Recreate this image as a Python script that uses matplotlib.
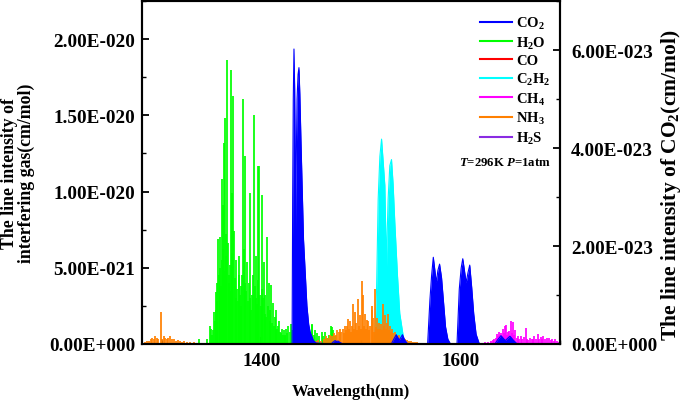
import matplotlib
matplotlib.use("Agg")
import matplotlib.pyplot as plt
from matplotlib.ticker import FixedLocator, FixedFormatter, MultipleLocator
from matplotlib.lines import Line2D

# ---------------- data ----------------
# H2O stick lines: wavelength (nm), intensity (x1e-20 cm/mol)
h2o_wl = [1337.3, 1345.7, 1348.3, 1349.7, 1350.5, 1351.3, 1352.3, 1353.0, 1354.0, 1354.6,
          1355.0, 1355.8, 1356.7, 1357.3, 1358.0, 1358.7, 1359.3, 1360.0, 1360.5, 1361.0,
          1361.6, 1362.3, 1362.8, 1363.3, 1364.0, 1364.8, 1365.7, 1366.3, 1367.0, 1367.7,
          1368.4, 1369.0, 1369.7, 1370.2, 1370.7, 1371.7, 1372.3, 1373.3, 1374.0, 1374.8,
          1375.7, 1376.5, 1377.0, 1377.7, 1378.3, 1379.0, 1379.8, 1380.5, 1381.3, 1382.3,
          1383.0, 1383.7, 1384.5, 1385.7, 1386.5, 1387.3, 1388.3, 1389.0, 1389.8, 1390.7,
          1391.5, 1392.7, 1393.5, 1394.3, 1395.0, 1395.6, 1396.3, 1397.0, 1397.7, 1398.5,
          1399.3, 1400.2, 1401.0, 1401.6, 1402.3, 1403.2, 1404.0, 1404.8, 1405.7, 1406.5,
          1407.3, 1408.2, 1409.0, 1409.7, 1410.5, 1411.7, 1412.5, 1413.5, 1414.3, 1415.0,
          1416.0, 1417.0, 1418.0, 1419.0, 1420.0, 1420.7, 1421.5, 1422.5, 1423.3, 1424.0,
          1425.0, 1426.0, 1427.0, 1428.3, 1429.7, 1430.5,
          1449.5, 1450.7, 1451.3, 1452.5, 1454.0, 1456.0, 1458.0, 1460.7, 1462.0, 1464.0,
          1466.0, 1468.0, 1469.7, 1470.7, 1472.3, 1474.0]
h2o_int = [0.03, 0.03, 0.12, 0.10, 0.06, 0.09, 0.21, 0.15, 0.34, 0.22,
           0.40, 0.28, 0.69, 0.45, 0.70, 0.50, 0.38, 1.08, 0.55, 0.91,
           0.62, 1.32, 0.48, 1.48, 0.72, 0.58, 1.86, 0.66, 0.45, 0.40,
           0.52, 0.35, 1.80, 0.60, 0.99, 1.63, 0.74, 0.43, 0.30, 0.55,
           0.36, 0.28, 0.45, 0.58, 0.32, 0.38, 0.25, 0.45, 1.61, 0.62,
           0.40, 1.23, 0.35, 0.54, 0.28, 0.40, 0.99, 0.30, 0.22, 0.32,
           0.45, 1.50, 0.38, 0.58, 0.30, 0.26, 1.17, 0.42, 1.17, 0.32,
           0.25, 0.36, 0.98, 0.30, 0.54, 0.20, 0.32, 0.18, 0.70, 0.25,
           0.40, 0.15, 0.22, 0.39, 0.14, 0.27, 0.12, 0.18, 0.10, 0.22,
           0.10, 0.12, 0.15, 0.08, 0.07, 0.10, 0.06, 0.09, 0.05, 0.06,
           0.10, 0.07, 0.12, 0.08, 0.13, 0.09,
           0.08, 0.13, 0.125, 0.06, 0.09, 0.07, 0.05, 0.08, 0.05, 0.077,
           0.04, 0.06, 0.12, 0.11, 0.09, 0.05]

# NH3 stick lines
nh3_wl = [1283, 1285, 1287, 1289, 1290.5, 1292, 1293.5, 1295, 1296.5, 1299,
          1300.5, 1302, 1303.5, 1305, 1306.5, 1308.3, 1310, 1312, 1314, 1316,
          1318, 1320, 1322, 1325, 1328, 1332, 1336,
          1452, 1455, 1457.3, 1460, 1463, 1465, 1467, 1469, 1471, 1473,
          1474.5, 1476, 1477.5, 1479, 1480.3, 1481.7, 1483, 1484, 1485.2, 1486.2,
          1487.3, 1488.3, 1489.3, 1490.3, 1491.3, 1492.3, 1493.2, 1494, 1495, 1496.2,
          1497.3, 1498.2, 1499, 1500, 1501, 1502.3, 1503.2, 1504, 1505, 1506,
          1507.3, 1508.3, 1509.3, 1510.7, 1511.5, 1512.5, 1513.3, 1514.3, 1515.2, 1516,
          1517, 1518, 1519, 1520, 1521, 1522.3, 1523, 1524, 1525, 1526,
          1527.3, 1528.3, 1529.3, 1530.5, 1531.5, 1532.5, 1534, 1535.5, 1537, 1538.5,
          1540, 1542, 1544, 1546, 1548, 1550, 1552, 1554, 1556]
nh3_int = [0.01, 0.02, 0.02, 0.03, 0.04, 0.03, 0.05, 0.04, 0.03, 0.21,
           0.03, 0.05, 0.04, 0.03, 0.04, 0.054, 0.03, 0.03, 0.02, 0.025,
           0.02, 0.015, 0.02, 0.01, 0.015, 0.01, 0.008,
           0.01, 0.02, 0.025, 0.02, 0.03, 0.05, 0.04, 0.06, 0.05, 0.07,
           0.06, 0.09, 0.08, 0.10, 0.08, 0.10, 0.07, 0.116, 0.09, 0.12,
           0.164, 0.10, 0.15, 0.08, 0.12, 0.26, 0.10, 0.21, 0.14, 0.09,
           0.295, 0.12, 0.19, 0.10, 0.41, 0.32, 0.12, 0.20, 0.10, 0.16,
           0.15, 0.09, 0.12, 0.22, 0.25, 0.17, 0.08, 0.36, 0.11, 0.17,
           0.10, 0.14, 0.10, 0.13, 0.09, 0.26, 0.12, 0.19, 0.10, 0.14,
           0.20, 0.09, 0.12, 0.08, 0.10, 0.07, 0.08, 0.06, 0.05, 0.06,
           0.04, 0.04, 0.03, 0.025, 0.02, 0.02, 0.015, 0.01, 0.01]

# CH4 stick lines
ch4_wl = [1340, 1345, 1350, 1625, 1628, 1630.7, 1632.5, 1634, 1635.3, 1636.3,
          1637.3, 1638.3, 1639.3, 1640.3, 1641.3, 1642.3, 1643.3, 1644.3, 1645.7, 1646.7,
          1647.5, 1648.3, 1649.5, 1651, 1652, 1653, 1654, 1655, 1656.3, 1657.7,
          1659, 1660.7, 1662, 1663.5, 1665.7, 1667, 1668.3, 1670, 1671.5, 1673,
          1674, 1675.5, 1677.7, 1679, 1680.5, 1681.5, 1683.3, 1685, 1686.5, 1689,
          1690.5, 1692, 1693.5, 1695, 1697, 1699]
ch4_int = [0.005, 0.005, 0.005, 0.01, 0.015, 0.02, 0.025, 0.033, 0.04, 0.066,
           0.05, 0.077, 0.06, 0.07, 0.05, 0.098, 0.07, 0.116, 0.125, 0.06,
           0.08, 0.087, 0.05, 0.149, 0.07, 0.142, 0.06, 0.095, 0.04, 0.054,
           0.03, 0.05, 0.03, 0.045, 0.103, 0.03, 0.025, 0.04, 0.03, 0.035,
           0.054, 0.03, 0.066, 0.03, 0.045, 0.03, 0.05, 0.03, 0.04, 0.04,
           0.025, 0.03, 0.02, 0.03, 0.02, 0.015]

# CO and H2S (very weak)
co_wl = [1560, 1565, 1570, 1575, 1580, 1585]
co_int = [0.001, 0.002, 0.002, 0.002, 0.002, 0.001]
h2s_wl = [1290, 1350, 1420, 1480, 1560, 1580, 1620]
h2s_int = [0.001, 0.002, 0.002, 0.002, 0.001, 0.001, 0.001]

# C2H2 band envelope
c2h2_wl = [1513.0, 1514.0, 1515.7, 1517.3, 1519.0, 1520.7, 1522.3, 1524.0, 1525.0, 1525.4,
           1525.8, 1527.3, 1529.0, 1530.7, 1532.3, 1534.0, 1536.7, 1539.0, 1542.3, 1544.0]
c2h2_int = [0.0, 0.08, 0.36, 0.95, 1.23, 1.344, 1.20, 1.04, 0.70, 0.30,
            0.60, 0.95, 1.17, 1.21, 1.05, 0.80, 0.45, 0.20, 0.06, 0.0]

# CO2 band envelope (x1e-23 cm/mol)
co2_wl = [1280, 1430.8, 1431.4, 1432.0, 1432.7, 1433.4, 1434.2, 1434.6, 1434.9, 1435.8,
          1436.8, 1437.7, 1438.6, 1439.7, 1441.0, 1442.3, 1444.0, 1445.7, 1447.5, 1449.0,
          1452.3, 1455.0, 1470.0, 1472.0, 1474.0, 1475.5, 1477.0, 1479.0, 1482.0, 1530.5,
          1533.0, 1535.5, 1538.5, 1541.7, 1544.0, 1547.0, 1567.0, 1569.3, 1571.0, 1572.7,
          1574.3, 1575.7, 1577.3, 1579.0, 1581.0, 1583.0, 1585.0, 1587.3, 1590.0, 1596.5,
          1598.8, 1600.7, 1602.3, 1604.0, 1605.7, 1607.5, 1609.3, 1611.3, 1613.3, 1615.7,
          1619.0, 1634.5, 1637.5, 1640.7, 1645.0, 1649.7, 1653.0, 1657.0, 1700]
co2_int = [0.0, 0.0, 3.0, 5.0, 6.02, 5.2, 3.3, 2.28, 3.6, 5.0,
           5.5, 5.64, 5.1, 4.17, 3.15, 2.13, 1.46, 0.78, 0.40, 0.24,
           0.07, 0.02, 0.0, 0.04, 0.07, 0.05, 0.06, 0.03, 0.0, 0.0,
           0.10, 0.19, 0.08, 0.19, 0.08, 0.0, 0.0, 0.90, 1.40, 1.77,
           1.50, 1.25, 1.50, 1.63, 1.35, 0.85, 0.35, 0.10, 0.0, 0.0,
           1.12, 1.55, 1.74, 1.50, 1.25, 1.45, 1.61, 1.15, 0.62, 0.20,
           0.0, 0.0, 0.09, 0.17, 0.07, 0.16, 0.08, 0.0, 0.0]

left_ticks = [0.0, 0.5e-20, 1.0e-20, 1.5e-20, 2.0e-20]
left_labels = ["0.00E+000", "5.00E-021", "1.00E-020", "1.50E-020", "2.00E-020"]
right_ticks = [0.0, 2e-23, 4e-23, 6e-23]
right_labels = ["0.00E+000", "2.00E-023", "4.00E-023", "6.00E-023"]
x_ticks = [1400, 1600]

GAS_UNIT = 1e-20
CO2_UNIT = 1e-23

# ---------------- style ----------------
plt.rcParams["font.family"] = ["Liberation Serif", "DejaVu Serif"]
plt.rcParams["font.weight"] = "bold"
plt.rcParams["mathtext.fontset"] = "custom"
plt.rcParams["mathtext.rm"] = "Liberation Serif:bold"
plt.rcParams["mathtext.it"] = "Liberation Serif:bold:italic"
plt.rcParams["mathtext.bf"] = "Liberation Serif:bold"

C_CO2 = "#0000FF"
C_H2O = "#00FF00"
C_CO = "#FF0000"
C_C2H2 = "#00FFFF"
C_CH4 = "#FF00FF"
C_NH3 = "#FF8000"
C_H2S = "#8A2BE2"

W, H = 685, 402
fig = plt.figure(figsize=(6.85, 4.02), dpi=100)
ax = fig.add_axes([142 / W, 1 - 345 / H, 418 / W, 343 / H])
ax2 = ax.twinx()

lw = 1.25
ax.vlines(h2o_wl, 0, [v * GAS_UNIT for v in h2o_int], color=C_H2O, lw=lw)
ax.vlines(co_wl, 0, [v * GAS_UNIT for v in co_int], color=C_CO, lw=lw)
ax.fill_between(c2h2_wl, 0, [v * GAS_UNIT for v in c2h2_int], color=C_C2H2, lw=0)
ax.plot(c2h2_wl, [v * GAS_UNIT for v in c2h2_int], color=C_C2H2, lw=0.8)
ax.vlines(ch4_wl, 0, [v * GAS_UNIT for v in ch4_int], color=C_CH4, lw=lw)
ax.vlines(nh3_wl, 0, [v * GAS_UNIT for v in nh3_int], color=C_NH3, lw=lw)
ax.vlines(h2s_wl, 0, [v * GAS_UNIT for v in h2s_int], color=C_H2S, lw=lw)
ax.axhline(0, color=C_H2S, lw=1.2, zorder=1.5)

co2_y = [v * CO2_UNIT for v in co2_int]
ax2.fill_between(co2_wl, 0, co2_y, color=C_CO2, lw=0)
ax2.plot(co2_wl, co2_y, color=C_CO2, lw=0.8)

ax.set_xlim(1280, 1700)
ax.set_ylim(0, 2.25e-20)
ax2.set_ylim(0, 7e-23)

ax.xaxis.set_major_locator(FixedLocator(x_ticks))
ax.xaxis.set_minor_locator(MultipleLocator(100))
ax.yaxis.set_major_locator(FixedLocator(left_ticks))
ax.yaxis.set_major_formatter(FixedFormatter(left_labels))
ax.yaxis.set_minor_locator(MultipleLocator(0.25e-20))
ax2.yaxis.set_major_locator(FixedLocator(right_ticks))
ax2.yaxis.set_major_formatter(FixedFormatter(right_labels))
ax2.yaxis.set_minor_locator(MultipleLocator(1e-23))

TICK_FS = 13.8
ax.tick_params(axis="both", which="both", direction="in", labelsize=TICK_FS)
ax.tick_params(axis="y", which="major", length=5, width=1.3, pad=5)
ax.tick_params(axis="y", which="minor", length=3, width=1.0)
ax.tick_params(axis="x", which="major", length=5, width=1.3, pad=6)
ax.tick_params(axis="x", which="minor", length=3, width=1.0)
ax.tick_params(top=False, right=False, which="both")
ax2.tick_params(axis="y", which="both", direction="in", labelsize=TICK_FS)
ax2.tick_params(axis="y", which="major", length=5, width=1.3, pad=8)
ax2.tick_params(axis="y", which="minor", length=3, width=1.0)

for a in (ax, ax2):
    for s in a.spines.values():
        s.set_linewidth(1.5)
for lab in ax.get_xticklabels() + ax.get_yticklabels() + ax2.get_yticklabels():
    lab.set_fontweight("bold")

ax.set_xlabel("Wavelength(nm)", fontsize=12, fontweight="bold", labelpad=10)
ax.set_ylabel("The line intensity of\ninterfering gas(cm/mol)", fontsize=12.8,
              fontweight="bold", linespacing=1.05, va="center", ha="center")
ax.yaxis.set_label_coords((18 - 142) / 418, 0.5)
ax2.set_ylabel("The line intensity of CO$_2$(cm/mol)", fontsize=15.5,
               fontweight="bold", va="center", ha="center")
ax2.yaxis.set_label_coords((671 - 142) / 418, 1 - (185 - 2) / 343)

handles = [Line2D([], [], color=c, lw=1.5) for c in
           (C_CO2, C_H2O, C_CO, C_C2H2, C_CH4, C_NH3, C_H2S)]
labels = ["CO$_2$", "H$_2$O", "CO", "C$_2$H$_2$", "CH$_4$", "NH$_3$", "H$_2$S"]
ax2.legend(handles, labels, loc="upper left", frameon=False,
           bbox_to_anchor=(480 / W, 1 - 16 / H), bbox_transform=fig.transFigure,
           handlelength=2.2, handletextpad=0.3, labelspacing=0.24,
           borderaxespad=0, borderpad=0, prop={"weight": "bold", "size": 10.5})

fig.text(505 / W, 1 - 163 / H, "$T$=296K $P$=1atm", fontsize=9.2, fontweight="bold",
         ha="center", va="center")

fig.savefig("out.png", dpi=100)
